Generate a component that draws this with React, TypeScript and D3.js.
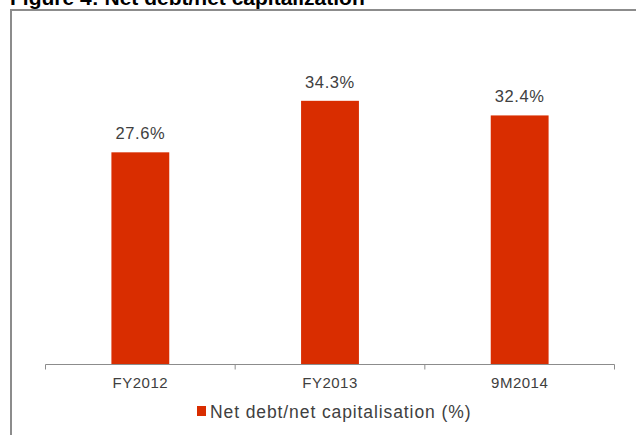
import React from "react";
import * as d3 from "d3";

const categories = ["FY2012", "FY2013", "9M2014"];
const values = [27.6, 34.3, 32.4];
const seriesName = "Net debt/net capitalisation (%)";
const title = "Figure 4: Net debt/net capitalization";

export default function App() {
  const W = 636, H = 435;
  const x = d3.scaleBand<string>().domain(categories).range([45.5, 614.5]).paddingInner(0.695).paddingOuter(0.3475);
  const y = d3.scaleLinear().domain([0, 40]).range([364.5, 57]);
  const font = "'Liberation Sans', Arial, sans-serif";
  const ticks = [45.5, ...categories.map((c) => (x(c)! + x.bandwidth() / 2) + x.step() / 2)];
  return (
    <svg width={W} height={H} style={{ position: "absolute", left: 0, top: 0, background: "#fff" }}>
      <text x={10} y={5} fontFamily={font} fontWeight="bold" fontSize={21} fill="#000">{title}</text>
      <path d={`M11,436 V10 H640`} fill="none" stroke="#8c8c8c" strokeWidth={2} />
      {categories.map((c, i) => (
        <g key={c}>
          <rect x={x(c)} y={y(values[i])} width={x.bandwidth()} height={y(0) - y(values[i])} fill="#D92D00" />
          <text x={x(c)! + x.bandwidth() / 2} y={y(values[i]) - 13} textAnchor="middle" fontFamily={font} fontSize={16.5} letterSpacing={0.6} fill="#404040">
            {values[i].toFixed(1)}%
          </text>
          <text x={x(c)! + x.bandwidth() / 2} y={388} textAnchor="middle" fontFamily={font} fontSize={15} letterSpacing={0.5} fill="#404040">
            {c}
          </text>
        </g>
      ))}
      <line x1={45.5} x2={614.5} y1={364.5} y2={364.5} stroke="#8c8c8c" strokeWidth={1} />
      {ticks.map((t, i) => (
        <line key={i} x1={t} x2={t} y1={364.5} y2={369.5} stroke="#8c8c8c" strokeWidth={1} />
      ))}
      <rect x={197} y={406} width={9} height={10} fill="#D92D00" />
      <text x={210} y={418} fontFamily={font} fontSize={17.5} letterSpacing={0.9} fill="#404040">{seriesName}</text>
    </svg>
  );
}
